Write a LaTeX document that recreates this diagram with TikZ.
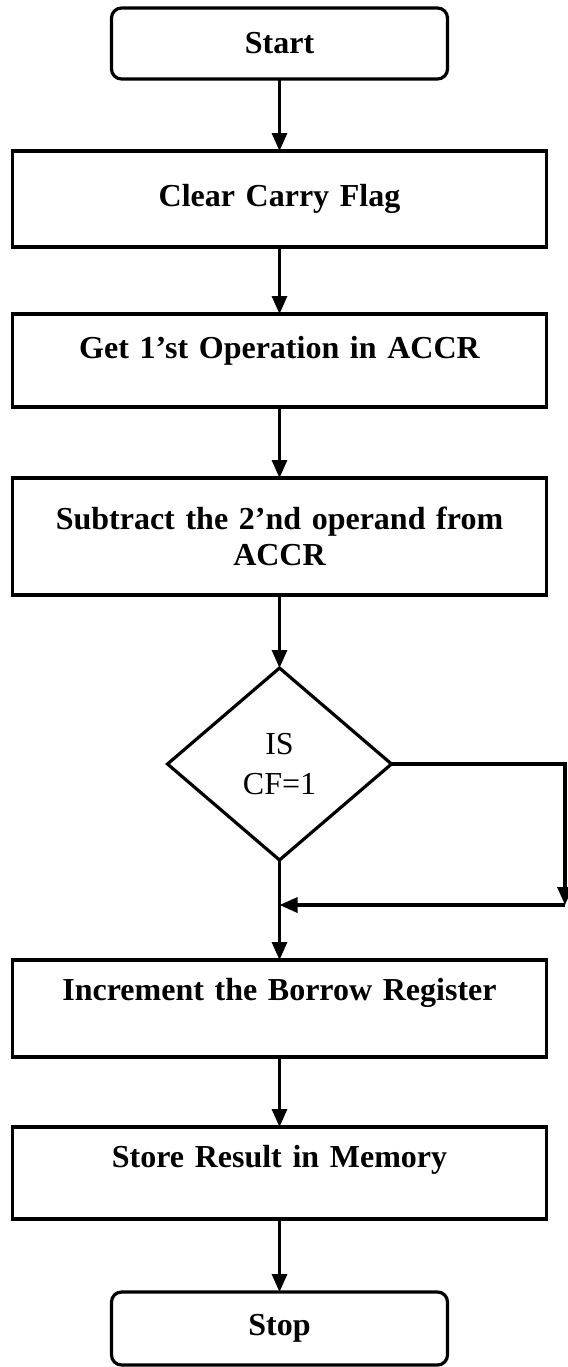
\documentclass[tikz,border=0pt]{standalone}
\usepackage{fontspec}
\setmainfont{Liberation Serif}
\usetikzlibrary{positioning,shapes.geometric,arrows.meta}
\tikzset{
  term/.style={draw, rounded corners=5pt, line width=1.6pt, outer sep=0pt,
    minimum width=168pt, minimum height=35.5pt, font=\bfseries\fontsize{16}{18}\selectfont},
  proc/.style={draw, line width=1.6pt, outer sep=0pt, minimum width=267pt,
    text width=255pt, align=center, font=\bfseries\fontsize{16}{18}\selectfont},
  decision/.style={draw, diamond, line width=1.6pt, outer sep=0pt, minimum width=112pt,
    minimum height=96pt, align=center, font=\fontsize{16}{20}\selectfont},
  flow/.style={line width=1.6pt, -{Triangle[length=9pt,width=7.5pt]}}
}
\begin{document}
\begin{tikzpicture}[node distance=36pt]
\useasboundingbox (0,0) rectangle (284pt,-683.5pt);
\node[term] (start) at (139.75pt,-21.75pt) {Start};
\node[proc, minimum height=48pt] (clear) [below=36pt of start] {Clear Carry Flag};
\node[proc, minimum height=46.5pt, text depth=12.8pt] (get) [below=33.5pt of clear] {Get 1’st Operation in ACCR};
\node[proc, minimum height=58.5pt] (sub) [below=35.5pt of get] {Subtract the 2’nd operand from\\ ACCR};
\node[decision] (cf) [below=36.5pt of sub] {IS\\CF=1};
\node[proc, minimum height=48.5pt, text depth=19.3pt] (inc) [below=50pt of cf] {Increment the Borrow Register};
\node[proc, minimum height=46pt, text depth=16.3pt] (store) [below=35pt of inc] {Store Result in Memory};
\node[term, minimum height=36.5pt] (stop) [below=36.5pt of store] {Stop};
\coordinate (turn) at (282.5pt,-452.5pt);
\draw[flow] (start) -- (clear);
\draw[flow] (clear) -- (get);
\draw[flow] (get) -- (sub);
\draw[flow] (sub) -- (cf);
\draw[flow] (cf) -- (inc);
\draw[flow] (cf.east) -| (turn);
\draw[flow] (turn) -- (turn -| cf.south);
\draw[flow] (inc) -- (store);
\draw[flow] (store) -- (stop);
\end{tikzpicture}
\end{document}
